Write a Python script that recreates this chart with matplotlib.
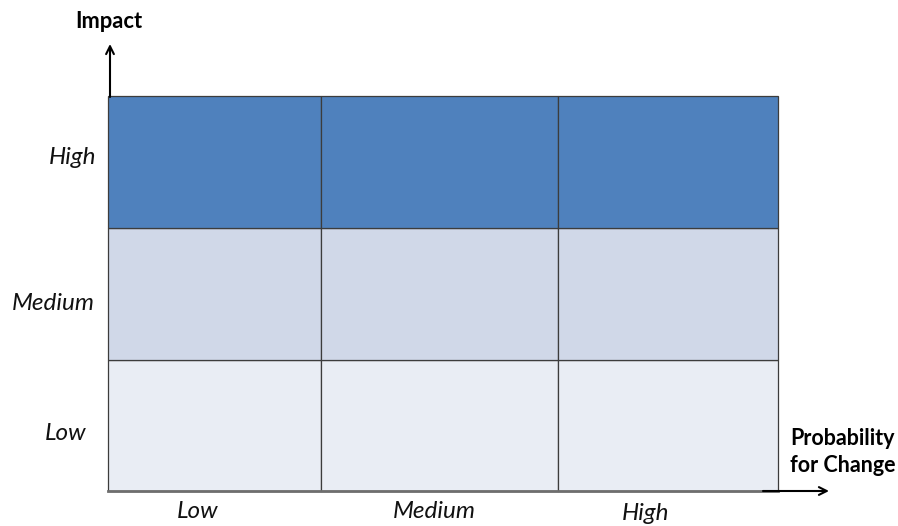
import matplotlib
matplotlib.use("Agg")
import matplotlib.pyplot as plt
from matplotlib.patches import Rectangle

# Data
impact_levels = ["Low", "Medium", "High"]          # rows, bottom to top
probability_levels = ["Low", "Medium", "High"]     # columns, left to right
row_colors = ["#E9EDF4", "#D0D8E8", "#4F81BD"]
y_title = "Impact"
x_title = "Probability\nfor Change"

# Layout (pixel geometry of the reference)
W, H = 898, 526
col_edges = [108, 321, 558, 778]
row_edges = [491, 360, 228, 96]   # bottom to top in image pixels

fig = plt.figure(figsize=(W / 100, H / 100), dpi=100)
ax = fig.add_axes([0, 0, 1, 1])
ax.set_xlim(0, W)
ax.set_ylim(H, 0)
ax.axis("off")

font = "Lato"

for r, level in enumerate(impact_levels):
    for c, _ in enumerate(probability_levels):
        x0, x1 = col_edges[c], col_edges[c + 1]
        y0, y1 = row_edges[r + 1], row_edges[r]
        ax.add_patch(Rectangle((x0, y0), x1 - x0, y1 - y0,
                               facecolor=row_colors[r], edgecolor="#3c3c3c",
                               linewidth=0.9, zorder=1))

# bottom border heavier gray
ax.plot([col_edges[0], col_edges[-1]], [row_edges[0], row_edges[0]],
        color="#6e6e6e", linewidth=2, zorder=2)

# row labels
row_label_pos = [(66, 434), (53, 303), (73, 158)]
for lbl, (x, y) in zip(impact_levels, row_label_pos):
    ax.text(x, y, lbl, ha="center", va="center", fontsize=17.5,
            style="italic", family=font, color="#111111")

# column labels
col_label_pos = [(198, 512), (434, 511), (646, 513)]
for lbl, (x, y) in zip(probability_levels, col_label_pos):
    ax.text(x, y, lbl, ha="center", va="center", fontsize=17.5,
            style="italic", family=font, color="#111111")

# axis arrows
ax.annotate("", xy=(110, 44), xytext=(110, 97),
            arrowprops=dict(arrowstyle="->", color="black", lw=1.5,
                            mutation_scale=14, shrinkA=0, shrinkB=0), zorder=3)
ax.annotate("", xy=(829, 491), xytext=(763, 491),
            arrowprops=dict(arrowstyle="->", color="black", lw=1.5,
                            mutation_scale=14, shrinkA=0, shrinkB=0), zorder=3)

ax.text(109, 21, y_title, ha="center", va="center", fontsize=15.8,
        fontweight="bold", family=font, color="black")
ax.text(790, 452, x_title, ha="left", va="center", fontsize=15.5,
        fontweight="bold", family=font, color="black", linespacing=1.35)

fig.savefig("out.png", dpi=100, facecolor="white")
